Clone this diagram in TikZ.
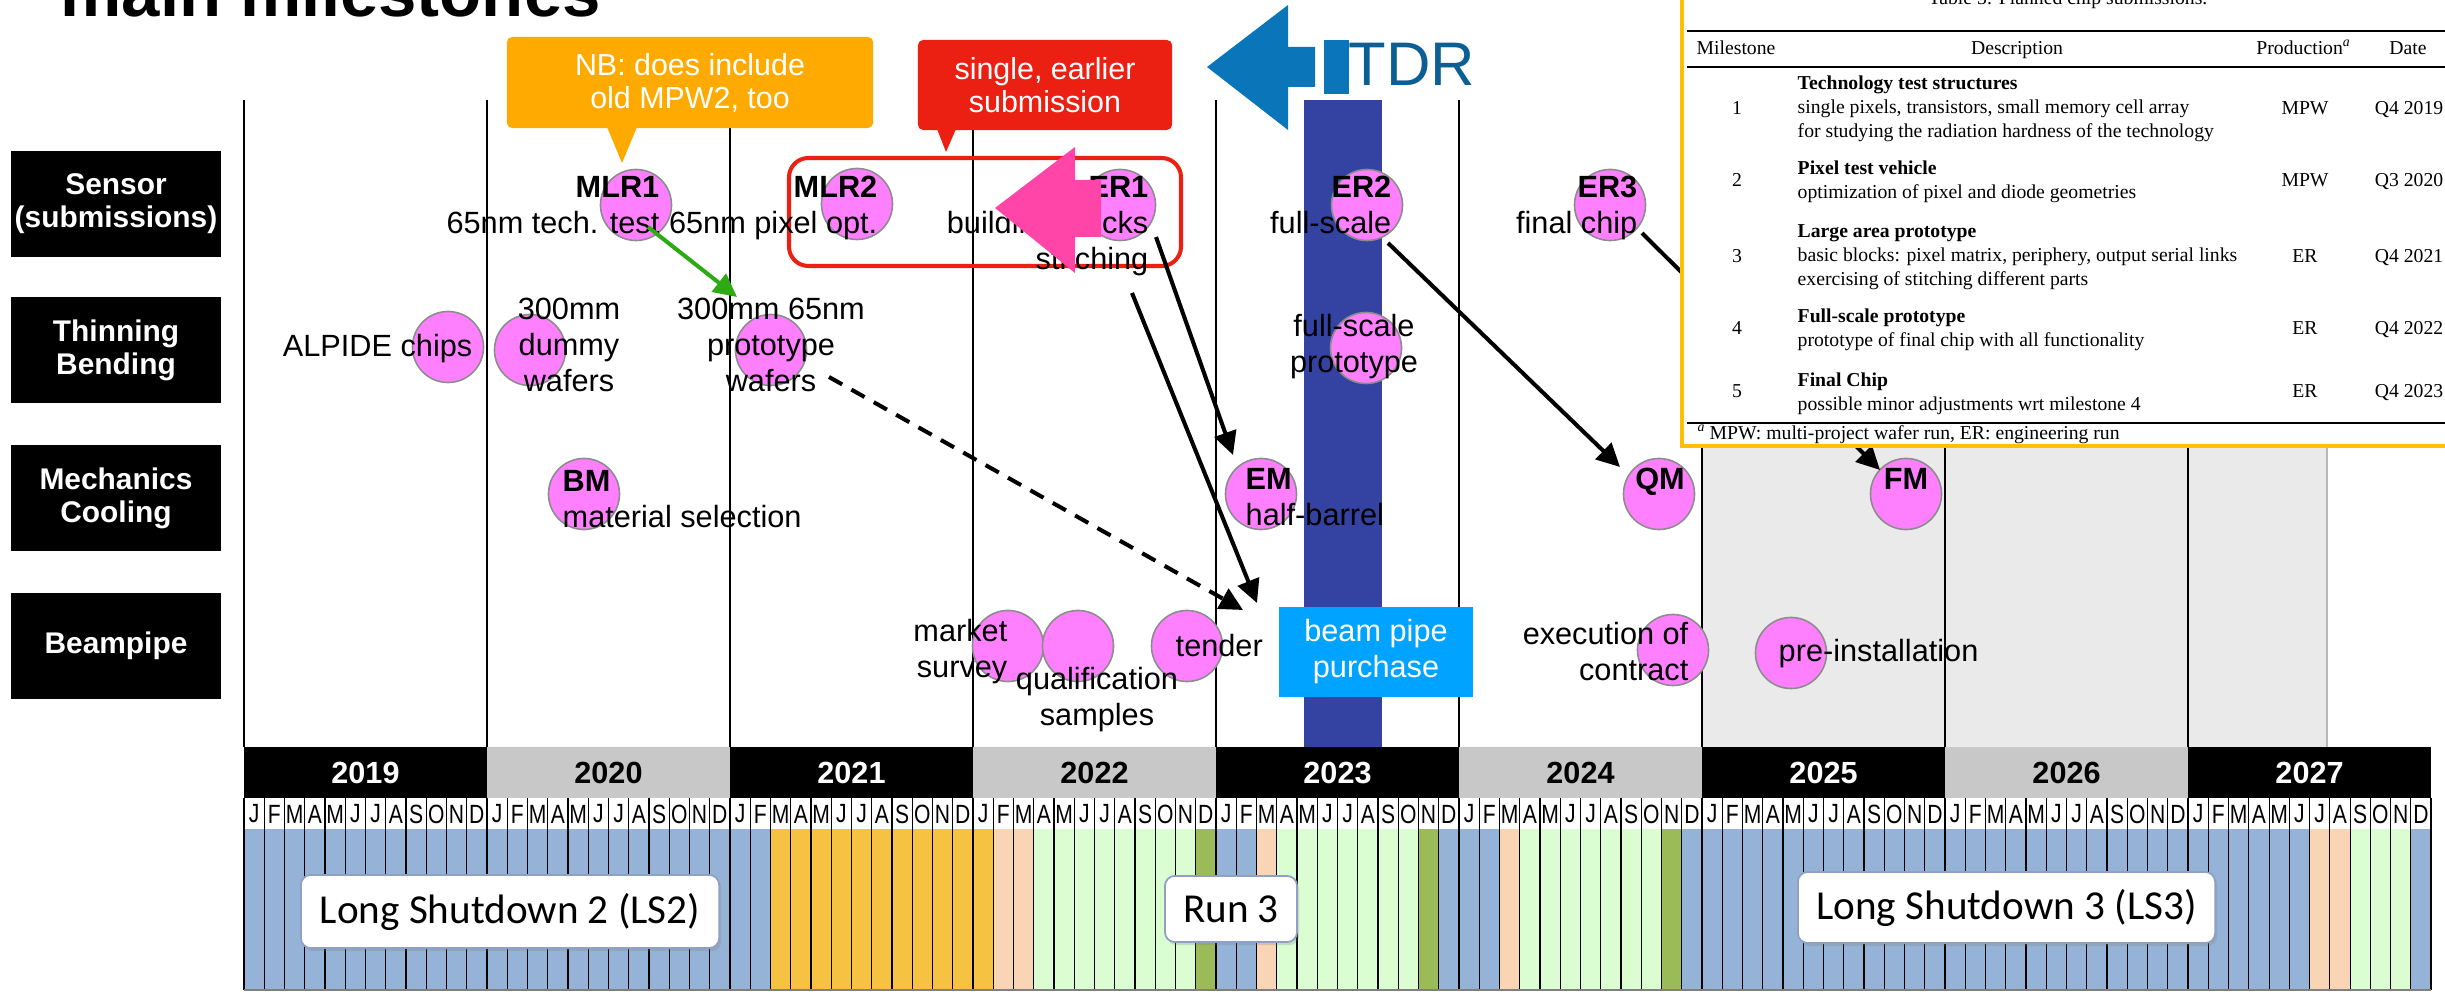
\documentclass[tikz,border=0pt]{standalone}
\usepackage{fontspec}
\setmainfont{Liberation Sans}
\newfontfamily\tabfont{Liberation Serif}
\newfontfamily\calfont{Carlito}
\usetikzlibrary{arrows.meta,shadows}

\definecolor{msPink}{HTML}{FF80FF}
\definecolor{msRim}{HTML}{8C8C8C}
\definecolor{nbOrange}{HTML}{FFAA00}
\definecolor{sgRed}{HTML}{EC2012}
\definecolor{hotPink}{HTML}{FF45A8}
\definecolor{tdrBlue}{HTML}{0A75B9}
\definecolor{tdrText}{HTML}{0C5F95}
\definecolor{tdrCol}{HTML}{3442A2}
\definecolor{bpBlue}{HTML}{00A3FF}
\definecolor{lsGray}{HTML}{EAEAEA}
\definecolor{lsGrayRim}{HTML}{B8B8B8}
\definecolor{linkGreen}{HTML}{2EAA14}
\definecolor{tabYellow}{HTML}{FFC000}
\definecolor{yearGray}{HTML}{C8C8C8}
\definecolor{lsRim}{HTML}{8FA0C4}
\definecolor{mB}{HTML}{95B3D7}
\definecolor{mO}{HTML}{F5C242}
\definecolor{mP}{HTML}{F9D5B5}
\definecolor{mG}{HTML}{DAFDD2}
\definecolor{mV}{HTML}{9BBB59}

\newcommand\lblfont{\fontsize{8.73pt}{10.2pt}\selectfont}
\newcommand\rowfont{\fontsize{8.5pt}{9.4pt}\selectfont\bfseries}
\newcommand\notefont{\fontsize{8.65pt}{9.4pt}\selectfont}
\newcommand\tdrfont{\fontsize{17.5pt}{20pt}\selectfont}
\newcommand\titlefont{\fontsize{19.6pt}{22pt}\selectfont\bfseries}
\newcommand\tabsize{\fontsize{5.6pt}{6.7pt}\selectfont\tabfont}
\newcommand\yearfont{\fontsize{8.7pt}{10pt}\selectfont\bfseries}
\newcommand\monfont{\fontsize{7.5pt}{9pt}\selectfont}
\newcommand\lsfont{\fontsize{11.7pt}{14pt}\selectfont\calfont}
\newcommand\mslines[2]{\begin{tabular}[t]{@{}#1@{}}#2\end{tabular}}

\begin{document}
\begin{tikzpicture}[x=0.01cm,y=-0.01cm,
    milestone/.style={circle,fill=msPink,draw=msRim,line width=0.45pt,minimum size=0.71cm,inner sep=0pt},
    lbl/.style={font=\lblfont,inner sep=0pt},
    rowhead/.style={fill=black,text=white,font=\rowfont,align=center,minimum width=2.09cm,minimum height=1.05cm,inner sep=0pt},
    callout/.style={text=white,font=\notefont,align=center,rounded corners=1.5pt,inner sep=0pt},
    link/.style={line width=1.15pt,-{Triangle[length=6.6pt,width=6.4pt]}},
    lsbox/.style={fill=white,draw=lsRim,line width=0.5pt,rounded corners=2.8pt,font=\lsfont,inner sep=0pt,
      drop shadow={opacity=0.25,shadow xshift=0.6pt,shadow yshift=-0.9pt}},
    tab/.style={font=\tabsize,inner sep=0pt}]
\useasboundingbox (0,0) rectangle (2445,995);
\clip (0,0) rectangle (2445,995);

% title (cut by the top edge)
\node[anchor=base west,font=\titlefont,inner sep=0pt] (title) at (60,17) {main milestones};

% row headers
\node[rowhead] (rsensor) at (116,204) {Sensor\\(submissions)};
\node[rowhead] (rthin) at (116,350) {Thinning\\Bending};
\node[rowhead] (rmech) at (116,498) {Mechanics\\Cooling};
\node[rowhead] (rpipe) at (116,646) {Beampipe};

% background: LS3 period, TDR column, year lines
\fill[lsGray] (1702,100) rectangle (2327,747);
\draw[lsGrayRim,line width=0.6pt] (2327,100) -- (2327,747);
\fill[tdrCol] (1304,100) rectangle (1382,747);
\foreach \k in {0,...,8}
  \draw[line width=0.6pt] (244+243*\k,100) -- (244+243*\k,747);

% callouts
\node[callout,fill=nbOrange,minimum width=3.66cm,minimum height=0.91cm] (nb) at (690,82.5) {NB: does include\\old MPW2, too};
\fill[nbOrange] (607,127) -- (622,163) -- (637,127) -- cycle;
\node[callout,fill=sgRed,minimum width=2.54cm,minimum height=0.90cm] (single) at (1045,85) {single, earlier\\submission};
\fill[sgRed] (937,129) -- (946,152) -- (956,129) -- cycle;
\draw[sgRed,line width=1.15pt,rounded corners=5.5pt] (789,158) rectangle (1181,266);

% TDR arrow
\fill[tdrBlue] (1207,67) -- (1288,5) -- (1288,47) -- (1315,47) -- (1315,87) -- (1288,87) -- (1288,130) -- cycle;
\fill[tdrBlue] (1324,40) rectangle (1349,94);
\node[anchor=base west,font=\tdrfont,text=tdrText,inner sep=0pt] (tdr) at (1348,86) {TDR};

% milestones
\node[milestone] (mlr1) at (636,205) {};
\node[milestone] (mlr2) at (857,204) {};
\node[milestone] (er1) at (1120,205) {};
\node[milestone] (er2) at (1367,205) {};
\node[milestone] (er3) at (1610,205) {};
\node[milestone] (alpide) at (448,347) {};
\node[milestone] (dummy) at (530,350) {};
\node[milestone] (proto) at (771,350) {};
\node[milestone] (fsproto) at (1366,348) {};
\node[milestone] (bm) at (584,494) {};
\node[milestone] (em) at (1261,494) {};
\node[milestone] (qm) at (1659,494) {};
\node[milestone] (fm) at (1906,494) {};
\node[milestone] (survey) at (1008,646) {};
\node[milestone] (qualif) at (1078,646) {};
\node[milestone] (tender) at (1187,646) {};
\node[milestone] (contract) at (1673,650) {};
\node[milestone] (preinst) at (1791,653) {};

% labels
\node[lbl,anchor=base east] (mlr1txt) at (660,198) {\mslines{r}{\textbf{MLR1}\\65nm tech. test}};
\node[lbl,anchor=base east] (mlr2txt) at (878,198) {\mslines{r}{\textbf{MLR2}\\65nm pixel opt.}};
\node[lbl,anchor=base east] (er1txt) at (1149,198) {\mslines{r}{\textbf{ER1}\\building blocks\\stitching}};
\node[lbl,anchor=base east] (er2txt) at (1392,198) {\mslines{r}{\textbf{ER2}\\full-scale}};
\node[lbl,anchor=base east] (er3txt) at (1638,198) {\mslines{r}{\textbf{ER3}\\final chip}};
\node[lbl,anchor=base east] (alpidetxt) at (473,357) {ALPIDE chips};
\node[lbl,anchor=base] (dummytxt) at (569,320) {\mslines{c}{300mm\\dummy\\wafers}};
\node[lbl,anchor=base] (prototxt) at (771,320) {\mslines{c}{300mm 65nm\\prototype\\wafers}};
\node[lbl,anchor=base] (fsprototxt) at (1354,337) {\mslines{c}{full-scale\\prototype}};
\node[lbl,anchor=base west] (bmtxt) at (562,492) {\mslines{l}{\textbf{BM}\\material selection}};
\node[lbl,anchor=base west] (emtxt) at (1245,490) {\mslines{l}{\textbf{EM}\\half-barrel}};
\node[lbl,anchor=base] (qmtxt) at (1660,490) {\textbf{QM}};
\node[lbl,anchor=base] (fmtxt) at (1906,490) {\textbf{FM}};
\node[lbl,anchor=base east] (surveytxt) at (1008,642) {\mslines{r}{market\\survey}};
\node[lbl,anchor=base] (qualiftxt) at (1097,690) {\mslines{c}{qualification\\samples}};
\node[lbl,anchor=base west] (tendertxt) at (1175,657) {tender};
\node[lbl,anchor=base east] (contracttxt) at (1689,645) {\mslines{r}{execution of\\contract}};
\node[lbl,anchor=base west] (preinsttxt) at (1778,662) {pre-installation};
\node[fill=bpBlue,text=white,font=\lblfont,align=center,minimum width=1.94cm,minimum height=0.90cm,inner sep=0pt] (bpp) at (1376,652) {beam pipe\\purchase};

% links
\coordinate (mlr1out) at (648,227);
\coordinate (protoin) at (737,297);
\coordinate (er1out) at (1156,237);
\coordinate (emin) at (1233,455);
\coordinate (stitchout) at (1132,293);
\coordinate (bppin) at (1257,603);
\coordinate (waferout) at (829,377);
\coordinate (tenderin) at (1243,610);
\coordinate (er2out) at (1388,243);
\coordinate (qmin) at (1620,467);
\coordinate (er3out) at (1642,233);
\coordinate (fmin) at (1880,470);
\draw[link,draw=linkGreen] (mlr1out) -- (protoin);
\draw[link] (er1out) -- (emin);
\draw[link] (stitchout) -- (bppin);
\draw[link,dash pattern=on 4.3pt off 3pt] (waferout) -- (tenderin);
\draw[link] (er2out) -- (qmin);
\draw[link] (er3out) -- (fmin);

% earlier submission arrow
\fill[hotPink] (995,208) -- (1075,147) -- (1075,180) -- (1101,180) -- (1101,237) -- (1075,237) -- (1075,273) -- cycle;

% calendar: years
\foreach \yr/\bg/\fg [count=\k from 0] in {2019/black/white,2020/yearGray/black,2021/black/white,
    2022/yearGray/black,2023/black/white,2024/yearGray/black,2025/black/white,2026/yearGray/black,2027/black/white} {
  \fill[\bg] (244+243*\k,747) rectangle +(243,51);
  \node[font=\yearfont,text=\fg,inner sep=0pt] (y\yr) at (365.5+243*\k,772.5) {\yr};
}
% calendar: months
\foreach \codes [count=\k from 0] in {{B,B,B,B,B,B,B,B,B,B,B,B},{B,B,B,B,B,B,B,B,B,B,B,B},
    {B,B,O,O,O,O,O,O,O,O,O,O},{O,P,P,G,G,G,G,G,G,G,G,V},{B,B,P,G,G,G,G,G,G,G,V,B},
    {B,B,P,G,G,G,G,G,G,G,V,B},{B,B,B,B,B,B,B,B,B,B,B,B},{B,B,B,B,B,B,B,B,B,B,B,B},
    {B,B,B,B,B,B,P,P,G,G,G,B}} {
  \foreach \c [count=\m from 0] in \codes
    \fill[m\c] (244+243*\k+20.25*\m,829) rectangle +(20.25,161);
  \foreach \l [count=\m from 0] in {J,F,M,A,M,J,J,A,S,O,N,D}
    \node[font=\monfont,inner sep=0pt] (mon\k-\m) at (254.1+243*\k+20.25*\m,814) {\scalebox{0.8}[1]{\l}};
}
\foreach \j in {0,...,108}
  \draw[line width=0.3pt] (244+20.25*\j,798) -- +(0,192);
\foreach \k in {0,...,9}
  \draw[line width=0.7pt] (244+243*\k,798) -- +(0,192);
\draw[line width=0.3pt,gray] (244,990) -- (2431,990);

% machine periods
\node[lsbox,minimum width=4.18cm,minimum height=0.73cm] (ls2) at (510,911.5) {Long Shutdown 2 (LS2)};
\node[lsbox,minimum width=1.32cm,minimum height=0.66cm] (run3) at (1231,909) {Run 3};
\node[lsbox,minimum width=4.17cm,minimum height=0.71cm] (ls3) at (2006.5,907.5) {Long Shutdown 3 (LS3)};

% table of chip submissions
\filldraw[fill=white,draw=tabYellow,line width=1.2pt] (1682,-20) rectangle (2470,446);
\node[tab,anchor=base] (tcap) at (2068,5) {Table 3: Planned chip submissions.};
\draw[line width=0.6pt] (1687,31) -- (2445,31);
\node[tab,anchor=base] (hms) at (1736,55) {Milestone};
\node[tab,anchor=base] (hdesc) at (2017,55) {Description};
\node[tab,anchor=base] (hprod) at (2304,55) {Production\textsuperscript{\textit{a}}};
\node[tab,anchor=base] (hdate) at (2408,55) {Date};
\draw[line width=0.3pt] (1687,67) -- (2445,67);
\node[tab,anchor=base] (n1) at (1737,115) {1};
\node[tab,anchor=base west] (d1) at (1797,90) {\mslines{l}{\textbf{Technology test structures}\\single pixels, transistors, small memory cell array\\for studying the radiation hardness of the technology}};
\node[tab,anchor=base] (p1) at (2305,115) {MPW};
\node[tab,anchor=base] (t1) at (2409,115) {Q4 2019};
\node[tab,anchor=base] (n2) at (1737,187) {2};
\node[tab,anchor=base west] (d2) at (1797,175) {\mslines{l}{\textbf{Pixel test vehicle}\\optimization of pixel and diode geometries}};
\node[tab,anchor=base] (p2) at (2305,187) {MPW};
\node[tab,anchor=base] (t2) at (2409,187) {Q3 2020};
\node[tab,anchor=base] (n3) at (1737,263) {3};
\node[tab,anchor=base west] (d3) at (1797,238) {\mslines{l}{\textbf{Large area prototype}\\basic blocks: pixel matrix, periphery, output serial links\\exercising of stitching different parts}};
\node[tab,anchor=base] (p3) at (2305,263) {ER};
\node[tab,anchor=base] (t3) at (2409,263) {Q4 2021};
\node[tab,anchor=base] (n4) at (1737,335) {4};
\node[tab,anchor=base west] (d4) at (1797,323) {\mslines{l}{\textbf{Full-scale prototype}\\prototype of final chip with all functionality}};
\node[tab,anchor=base] (p4) at (2305,335) {ER};
\node[tab,anchor=base] (t4) at (2409,335) {Q4 2022};
\node[tab,anchor=base] (n5) at (1737,398) {5};
\node[tab,anchor=base west] (d5) at (1797,387) {\mslines{l}{\textbf{Final Chip}\\possible minor adjustments wrt milestone 4}};
\node[tab,anchor=base] (p5) at (2305,398) {ER};
\node[tab,anchor=base] (t5) at (2409,398) {Q4 2023};
\draw[line width=0.6pt] (1687,423) -- (2445,423);
\node[tab,anchor=base west] (tfoot) at (1697,440) {\textsuperscript{\textit{a}}\,MPW: multi-project wafer run, ER: engineering run};
\end{tikzpicture}
\end{document}
